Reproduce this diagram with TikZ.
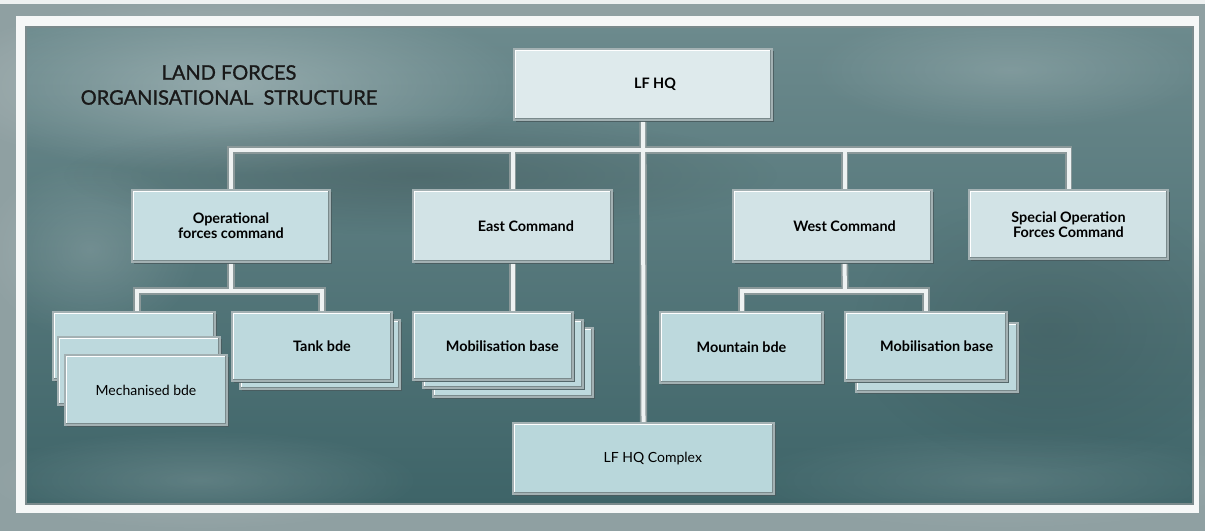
\documentclass[tikz,border=0pt]{standalone}
\usepackage{fontspec}
\setmainfont{Lato}
\newfontfamily\titlefont[FakeBold=1.2]{Lato}
\usetikzlibrary{shadows,fadings,calc}
\tikzfading[name=mist, inner color=transparent!0, outer color=transparent!100]
\definecolor{outerbg}{HTML}{8FA0A2}
\definecolor{framew}{HTML}{F5F7F7}
\definecolor{paneltop}{HTML}{6C8A8D}
\definecolor{panelmid}{HTML}{466D71}
\definecolor{panelbot}{HTML}{3E6468}
\definecolor{conngray}{HTML}{8A9899}
\definecolor{connwhite}{HTML}{EEF2F2}
\definecolor{edgegray}{HTML}{A3B1B3}
\definecolor{bevelgray}{HTML}{7A8A8C}
\definecolor{shadowgray}{HTML}{4A5C5F}
\definecolor{fillhq}{HTML}{DEEAEC}
\definecolor{fillcmd}{HTML}{D2E3E6}
\definecolor{fillops}{HTML}{C6DEE2}
\definecolor{fillunit}{HTML}{BDD9DD}
\definecolor{fillcx}{HTML}{B9D7DB}
\pgfdeclarelayer{bg}
\pgfdeclarelayer{lines}
\pgfsetlayers{bg,lines,main}
\newcommand\mkbox[7]{%
  \node[box,#1,minimum width={(#5-#3)*0.75pt},minimum height={(#6-#4)*0.75pt}] (#2) at ({(#3+#5)/2},{(#4+#6)/2}) {#7};}
\tikzset{
  box/.style={rectangle, inner sep=0pt, draw=edgegray, line width=0.8pt, text=black,
    font=\bfseries\fontsize{10.8}{11}\selectfont, align=center,
    drop shadow={shadow xshift=1.8pt, shadow yshift=-1.8pt, fill=shadowgray, opacity=0.9},
    path picture={
      \draw[white, line width=3pt] (path picture bounding box.south west) -- (path picture bounding box.north west) -- (path picture bounding box.north east);
      \draw[bevelgray, line width=3pt] (path picture bounding box.north east) -- (path picture bounding box.south east) -- (path picture bounding box.south west);
    }},
  hqbox/.style={fill=fillhq},
  cmdbox/.style={fill=fillcmd},
  opsbox/.style={fill=fillops},
  unitbox/.style={fill=fillunit},
  cxbox/.style={fill=fillcx},
  plain/.style={font=\fontsize{10.5}{11}\selectfont},
  cback/.style={draw=conngray, line width=5.5pt},
  cfront/.style={draw=connwhite, line width=3pt},
  titletext/.style={font=\titlefont\fontsize{15}{18.75}\selectfont, align=center, text=black!90}
}
\begin{document}
\begin{tikzpicture}[x=0.75pt,y=-0.75pt]
\useasboundingbox (0,0) rectangle (1205,531);
\begin{pgfonlayer}{bg}
  \fill[outerbg] (0,0) rectangle (1205,531);
  \fill[white!85!outerbg] (0,0) rectangle (1205,4);
  \fill[framew] (16,16) rectangle (1199,513);
  \shade[top color=paneltop, middle color=panelmid, bottom color=panelbot] (26,27) rectangle (1193,504);
  \fill[white, opacity=0.30, path fading=mist] (230,85) ellipse (300 and 90);
  \fill[white, opacity=0.16, path fading=mist] (1010,70) ellipse (200 and 60);
  \fill[white, opacity=0.16, path fading=mist] (90,250) ellipse (110 and 90);
  \fill[white, opacity=0.16, path fading=mist] (200,480) ellipse (220 and 50);
  \fill[white, opacity=0.12, path fading=mist] (1000,480) ellipse (260 and 50);
  \fill[black, opacity=0.15, path fading=mist] (420,175) ellipse (360 and 60);
  \fill[black, opacity=0.10, path fading=mist] (1050,330) ellipse (200 and 140);
  \draw[bevelgray, line width=1.2pt] (26,27) rectangle (1193,504);
\end{pgfonlayer}

\node[titletext] (title) at (229,85) {LAND FORCES\\ORGANISATIONAL\ \ STRUCTURE};

\mkbox{hqbox}{hq}{514}{49}{772}{120}{\hspace*{18pt}LF HQ}
\mkbox{opsbox}{ofc}{132}{190}{330}{262}{Operational\\forces command}
\mkbox{cmdbox}{east}{413}{190}{612}{262}{\hspace*{20pt}East Command}
\mkbox{cmdbox}{west}{733}{190}{932}{262}{\hspace*{18pt}West Command}
\mkbox{cmdbox}{soc}{969}{190}{1168}{259}{Special Operation\\Forces Command}

\mkbox{unitbox}{mech1}{53}{312}{215}{380}{}
\mkbox{unitbox}{mech2}{58}{337}{220}{405}{}
\mkbox{unitbox,plain}{mech3}{65}{355}{227}{425}{Mechanised bde}

\mkbox{unitbox}{tankb}{240}{320}{400}{389}{}
\mkbox{unitbox}{tank}{232}{312}{392}{381}{\hspace*{15pt}Tank bde}

\mkbox{unitbox}{mobA3}{433}{328}{593}{397}{}
\mkbox{unitbox}{mobA2}{423}{320}{583}{388}{}
\mkbox{unitbox}{mobA1}{413}{312}{573}{380}{\hspace*{14pt}Mobilisation base}

\mkbox{unitbox}{mtn}{660}{312}{823}{383}{Mountain bde}
\mkbox{unitbox}{mobB2}{856}{323}{1018}{392}{}
\mkbox{unitbox}{mobB1}{845}{312}{1007}{381}{\hspace*{16pt}Mobilisation base}

\mkbox{cxbox,plain}{cx}{513}{423}{774}{494}{\hspace*{14pt}LF HQ Complex}

\coordinate (j1) at (643,150);
\coordinate (j2) at (231,291);
\coordinate (j3) at (845,291);

\begin{pgfonlayer}{lines}
\foreach \s in {cback,cfront}{
  \draw[\s] (hq.south) -- (cx.north);
  \draw[\s] (ofc.north) |- (j1) -| (soc.north);
  \draw[\s] (east.north) -- (east.north |- j1);
  \draw[\s] ([xshift=9pt]west.north) -- ([xshift=9pt]west.north |- j1);
  \draw[\s] (ofc.south) -- (j2);
  \draw[\s] ([xshift=2.25pt]mech1.north) |- (j2) -| ([xshift=7.5pt]tank.north);
  \draw[\s] (east.south) -- (east.south |- mobA1.north);
  \draw[\s] ([xshift=9pt]west.south) -- (j3);
  \draw[\s] (mtn.north) |- (j3) -| (mobB1.north);
}
\end{pgfonlayer}
\end{tikzpicture}
\end{document}
